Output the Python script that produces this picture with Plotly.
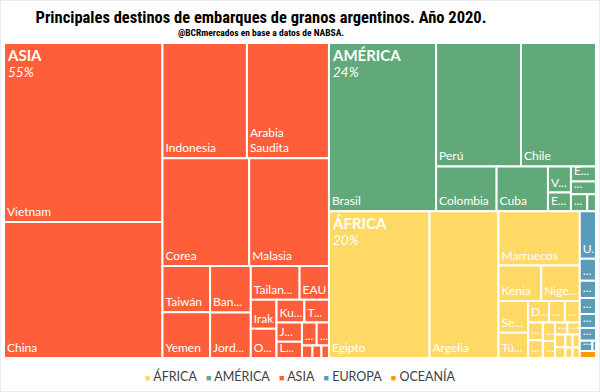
import plotly.graph_objects as go

# ---------------- datos (participación % estimada en los embarques) ----------------
regiones = ["ÁFRICA", "AMÉRICA", "ASIA", "EUROPA", "OCEANÍA"]
colores_region = ["#FFD966", "#62A97A", "#FF5E3A", "#5B9BBA", "#FF9900"]

asia_paises = ["Vietnam", "China", "Indonesia", "Arabia<br>Saudita", "Corea", "Malasia",
               "Taiwán", "Yemen", "Ban...", "Jord...", "Tailan...", "EAU", "Irak", "O...",
               "Ku...", "T...", "J...", "L...", "...", "...", "", "", ""]
asia_valores = [15.14, 11.50, 5.20, 5.05, 4.98, 4.58, 1.18, 1.16, 1.01, 0.99, 0.88, 0.53,
                0.40, 0.40, 0.34, 0.30, 0.26, 0.22, 0.18, 0.15, 0.07, 0.06, 0.05]

america_paises = ["Brasil", "Perú", "Chile", "Colombia", "Cuba", "V...", "E...", "E...",
                  "...", "...", ""]
america_valores = [9.62, 5.60, 4.94, 1.45, 1.23, 0.32, 0.23, 0.20, 0.17, 0.15, 0.08]

africa_paises = ["Egipto", "Argelia", "Marruecos", "Kenia", "Nige...", "Se...", "Tú...",
                 "D...", "...", "...", "...", "...", "...", "...", "...", "...",
                 "", "", "", "", "", ""]
africa_valores = [7.87, 5.40, 2.35, 0.81, 0.73, 0.50, 0.40, 0.24, 0.18, 0.17, 0.14, 0.14,
                  0.12, 0.11, 0.08, 0.08, 0.07, 0.06, 0.05, 0.05, 0.04, 0.04]

europa_paises = ["U...", "...", "...", "...", "...", "...", "...", ""]
europa_valores = [0.41, 0.19, 0.15, 0.14, 0.12, 0.11, 0.07, 0.02]

oceania_paises = [""]
oceania_valores = [0.06]

titulo = "Principales destinos de embarques de granos argentinos. Año 2020."
subtitulo = "@BCRmercados en base a datos de NABSA."

# ---------------- construcción del árbol ----------------
grupos = {
    "ÁFRICA": (africa_paises, africa_valores),
    "AMÉRICA": (america_paises, america_valores),
    "ASIA": (asia_paises, asia_valores),
    "EUROPA": (europa_paises, europa_valores),
    "OCEANÍA": (oceania_paises, oceania_valores),
}
total = sum(sum(v) for _, v in grupos.values())

ids, labels, parents, values, colors, text_hojas, text_grupo = [], [], [], [], [], [], []
for reg, col in zip(regiones, colores_region):
    ids.append(reg); labels.append(reg); parents.append(""); values.append(0)
    colors.append(col); text_hojas.append(""); text_grupo.append("")
for reg, col in zip(regiones, colores_region):
    paises, vals = grupos[reg]
    share = sum(vals) / total * 100
    for i, (p, v) in enumerate(zip(paises, vals)):
        ids.append(f"{reg}/{i}"); labels.append(p); parents.append(reg); values.append(v)
        colors.append(col); text_hojas.append(p)
        if i == 0 and share >= 5:
            text_grupo.append(
                f"<span style='font-size:15px'><b>{reg}</b></span><br>"
                f"<span style='font-size:13.5px'><i>{share:.0f}%</i></span>")
        else:
            text_grupo.append("")

dom_x = [4 / 600, 596 / 600]
dom_y = [(392 - 358) / 392, (392 - 43) / 392]
FONT = "Lato, Open Sans, sans-serif"
FONT_TIT = "Liberation Sans Narrow, Roboto Condensed, DejaVu Sans Condensed, Liberation Sans"

fig = go.Figure()
fig.add_trace(go.Treemap(
    ids=ids, labels=labels, parents=parents, values=values,
    branchvalues="remainder", sort=True,
    marker=dict(colors=colors, line=dict(color="white", width=2),
                pad=dict(t=0, l=0, r=0, b=0)),
    text=text_hojas, texttemplate="%{text}", textposition="bottom left",
    textfont=dict(family=FONT, size=12, color="white"),
    tiling=dict(packing="squarify", pad=0),
    pathbar=dict(visible=False), root=dict(color="white"),
    hoverinfo="skip", domain=dict(x=dom_x, y=dom_y),
))
fig.add_trace(go.Treemap(
    ids=ids, labels=labels, parents=parents, values=values,
    branchvalues="remainder", sort=True,
    marker=dict(colors=["rgba(0,0,0,0)"] * len(ids), line=dict(width=0),
                pad=dict(t=0, l=0, r=0, b=0)),
    text=text_grupo, texttemplate="%{text}", textposition="top left",
    textfont=dict(family=FONT, size=12, color="white"),
    tiling=dict(packing="squarify", pad=0),
    pathbar=dict(visible=False), root=dict(color="rgba(0,0,0,0)"),
    hoverinfo="skip", domain=dict(x=dom_x, y=dom_y),
))

# leyenda como texto: cuadrado de color + nombre de la región
leyenda = "   ".join(
    f"<span style='color:{c};font-size:9px'>■</span> {r}"
    for r, c in zip(regiones, colores_region))

fig.update_layout(
    width=600, height=392,
    margin=dict(l=0, r=0, t=0, b=0),
    paper_bgcolor="white", plot_bgcolor="white",
    uniformtext=dict(minsize=12, mode="show"),
    title=dict(text=f"<b>{titulo}</b>", x=261 / 600, xanchor="center",
               y=1 - 17 / 392, yanchor="middle", yref="container",
               font=dict(family=FONT_TIT, size=16.5, color="black")),
    annotations=[
        dict(text=f"<b>{subtitulo}</b>", x=261 / 600, y=1 - 33 / 392,
             xref="paper", yref="paper", showarrow=False,
             xanchor="center", yanchor="middle",
             font=dict(family=FONT_TIT, size=9.5, color="black")),
        dict(text=leyenda, x=0.5, y=(392 - 376) / 392, xref="paper", yref="paper",
             showarrow=False, xanchor="center", yanchor="middle",
             font=dict(family=FONT, size=12.5, color="#404040")),
    ],
    shapes=[dict(type="rect", xref="paper", yref="paper", x0=0, x1=1, y0=0, y1=1,
                 line=dict(color="#D9D9D9", width=1))],
)

fig.write_html("out.html", config={"displayModeBar": False},
               post_script="document.body.style.margin='0';")
